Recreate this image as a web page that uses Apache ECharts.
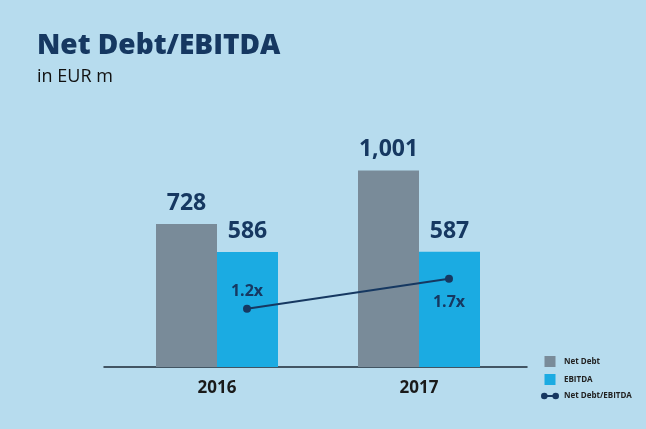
<!DOCTYPE html>
<html>
<head>
<meta charset="utf-8">
<script src="https://cdn.jsdelivr.net/npm/echarts@6/dist/echarts.min.js"></script>
<style>
  html, body { margin: 0; padding: 0; background: #b7dcee; }
  #chart { width: 646px; height: 429px; }
</style>
</head>
<body>
<div id="chart"></div>
<script>
// datos del grafico
const years = ['2016', '2017'];
const netDebt = [728, 1001];
const ebitda = [586, 587];
const ratio = [1.2, 1.7];
const ratioLabels = ['1.2x', '1.7x'];

const navy = '#163861';
const font = 'Open Sans';

let chart = echarts.init(document.querySelector('#chart'));

// posicion de la etiqueta del ratio (arriba / abajo)
const ratioPos = [['top', 5], ['bottom', 12]];

// icono de leyenda: dos puntos unidos por una linea
const lineIcon = 'path://M0,5a3.3,3.3 0 1,1 6.6,0a3.3,3.3 0 1,1 -6.6,0z' +
    'M6.4,4.1h5.2v1.8h-5.2z' +
    'M11.4,5a3.3,3.3 0 1,1 6.6,0a3.3,3.3 0 1,1 -6.6,0z';

let option = {
    backgroundColor: '#b7dcee',
    title: {
        text: 'Net Debt/EBITDA',
        subtext: 'in EUR m',
        left: 32,
        top: 27,
        itemGap: 8,
        textStyle: { fontFamily: font, fontSize: 28, fontWeight: 800, color: navy },
        subtextStyle: { fontFamily: font, fontSize: 18, color: '#111' }
    },
    legend: {
        orient: 'vertical',
        left: 536,
        top: 351,
        itemWidth: 18,
        itemHeight: 11,
        itemGap: 7,
        textStyle: { fontFamily: font, fontSize: 8, fontWeight: 'bold', color: '#222' },
        data: [
            { name: 'Net Debt', icon: 'path://M0,0h10v10h-10z' },
            { name: 'EBITDA', icon: 'path://M0,0h10v10h-10z' },
            { name: 'Net Debt/EBITDA', icon: lineIcon, itemStyle: { color: navy, borderWidth: 0 } }
        ]
    },
    grid: [
        { left: 116, right: 126, top: 92, bottom: 62 },
        { left: 146, right: 96, top: 92, bottom: 62 },
        { left: 104, right: 119, top: 92, bottom: 62 }
    ],
    xAxis: [
        {
            type: 'category', gridIndex: 0, data: years,
            axisLine: { show: false }, axisTick: { show: false },
            axisLabel: { fontFamily: font, fontSize: 17, fontWeight: 'bold', color: '#1a1a1a', margin: 13 }
        },
        { type: 'category', gridIndex: 1, data: years, show: false },
        {
            type: 'category', gridIndex: 2, data: [''],
            axisLine: { show: true, lineStyle: { color: '#1c2836', width: 1.5 } },
            axisTick: { show: false }, axisLabel: { show: false }
        }
    ],
    yAxis: [
        { type: 'value', gridIndex: 0, min: 0, max: 1400, show: false },
        { type: 'value', gridIndex: 1, min: 0.23, max: 4.81, show: false },
        { type: 'value', gridIndex: 2, show: false }
    ],
    series: [
        {
            name: 'Net Debt', type: 'bar', xAxisIndex: 0, yAxisIndex: 0,
            data: netDebt,
            barWidth: 61, barGap: 0,
            itemStyle: { color: '#798b99' },
            label: {
                show: true, position: 'top', distance: 9,
                fontFamily: font, fontSize: 23, fontWeight: 'bold', color: navy,
                formatter: (p) => p.value.toLocaleString('en-US')
            }
        },
        {
            name: 'EBITDA', type: 'bar', xAxisIndex: 0, yAxisIndex: 0,
            data: ebitda,
            barWidth: 61, barGap: 0,
            itemStyle: { color: '#1babe2' },
            label: {
                show: true, position: 'top', distance: 9,
                fontFamily: font, fontSize: 23, fontWeight: 'bold', color: navy
            }
        },
        {
            name: 'Net Debt/EBITDA', type: 'line', xAxisIndex: 1, yAxisIndex: 1,
            data: ratio.map((v, i) => ({
                value: v,
                label: { position: ratioPos[i][0], distance: ratioPos[i][1] }
            })),
            symbol: 'circle', symbolSize: 8,
            lineStyle: { color: navy, width: 2 },
            itemStyle: { color: navy },
            label: {
                show: true,
                fontFamily: font, fontSize: 16, fontWeight: 'bold', color: navy,
                formatter: (p) => ratioLabels[p.dataIndex]
            }
        }
    ]
};

chart.setOption(option);
</script>
</body>
</html>
